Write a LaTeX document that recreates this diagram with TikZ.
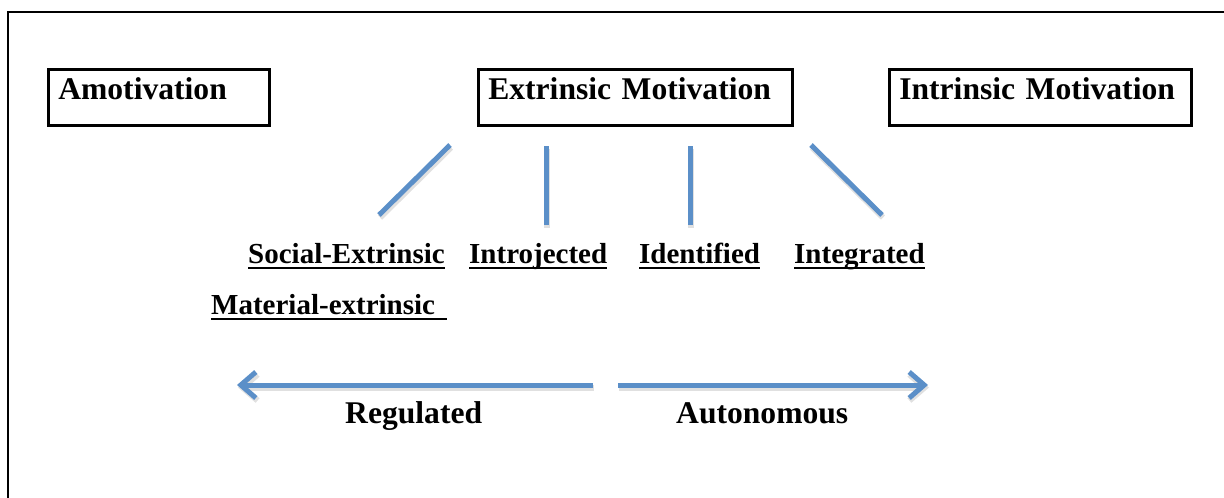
\documentclass[tikz,border=0pt]{standalone}
\usepackage{fontspec}
\setmainfont{Liberation Serif}
\usetikzlibrary{arrows.meta}
\definecolor{linkblue}{RGB}{91,143,200}
\newcommand{\ulabel}[1]{\setbox0\hbox{#1}\rlap{\rule[-6pt]{\wd0}{2pt}}\box0}

\begin{document}
\begin{tikzpicture}[x=1pt,y=-1pt]
                        \tikzstyle{mbox}=[draw, line width=2.6pt, anchor=north west, align=left, inner xsep=10pt, inner ysep=0pt, text height=30pt, text depth=26pt, font=\bfseries\fontsize{31.6}{36}\selectfont]
                        \tikzstyle{sub}=[anchor=base west, inner sep=0pt, font=\bfseries\fontsize{29}{34}\selectfont]
                        \tikzstyle{dir}=[anchor=base west, inner sep=0pt, font=\bfseries\fontsize{31.6}{36}\selectfont]
                        \tikzstyle{link}=[draw=linkblue, line width=5pt, preaction={draw=black!12, line width=6pt, transform canvas={shift={(1,2.5)}}}]
                        \useasboundingbox (0,0) rectangle (1224,498);
                        \draw[line width=2.7pt] (8,498) -- (8,12) -- (1224,12);
                        \node[mbox, text width=201pt] (amot) at (47,68) {Amotivation};
                        \node[mbox, text width=294pt] (extr) at (477,68) {Extrinsic Motivation};
                        \node[mbox, text width=282pt] (intr) at (888,68) {Intrinsic Motivation};
                        \node[sub] (social) at (248,263) {\ulabel{Social-Extrinsic}};
                        \node[sub] (intro) at (469,263) {\ulabel{Introjected}};
                        \node[sub] (ident) at (639,263) {\ulabel{Identified}};
                        \node[sub] (integ) at (794,263) {\ulabel{Integrated}};
                        \node[sub] (material) at (211,314) {\ulabel{Material-extrinsic\hspace{12pt}}};
                        \node[dir] (regul) at (345,423) {Regulated};
                        \node[dir] (auton) at (676,423) {Autonomous};
                        \coordinate (a1) at (450,145);
                        \coordinate (b1) at (379,215);
                        \coordinate (a2) at (546,146);
                        \coordinate (b2) at (546,225);
                        \coordinate (a3) at (690,146);
                        \coordinate (b3) at (690,225);
                        \coordinate (a4) at (811,145);
                        \coordinate (b4) at (882,215);
                        \coordinate (lstart) at (593,385);
                        \coordinate (lend) at (237,385);
                        \coordinate (rstart) at (618,385);
                        \coordinate (rend) at (928,385);
                        \draw[link] (a1) -- (b1);
                        \draw[link] (a2) -- (b2);
                        \draw[link] (a3) -- (b3);
                        \draw[link] (a4) -- (b4);
                        \draw[link, -{Straight Barb[length=15pt,width=26pt]}] (lstart) -- (lend);
                        \draw[link, -{Straight Barb[length=15pt,width=26pt]}] (rstart) -- (rend);
                    \end{tikzpicture}
\end{document}
